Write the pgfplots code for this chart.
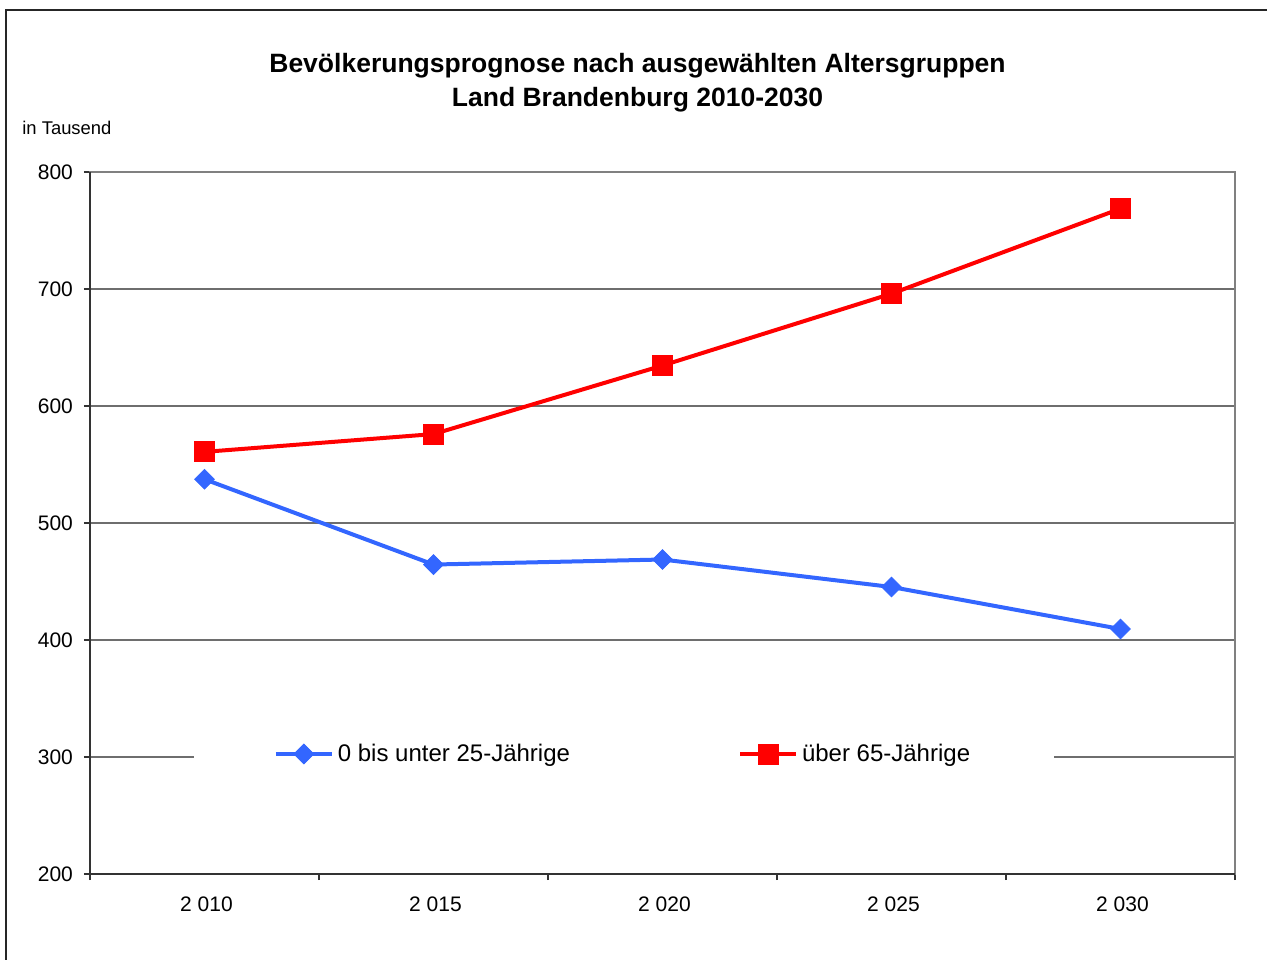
\documentclass[border=0pt]{standalone}
\usepackage{pgfplots}
\pgfplotsset{compat=1.18}
\usepackage{fontspec}
\setmainfont{Liberation Sans}
\definecolor{myblue}{RGB}{51,102,255}
\definecolor{gridgray}{RGB}{110,110,110}
\definecolor{boxgray}{RGB}{128,128,128}
\begin{document}
\begin{tikzpicture}
\useasboundingbox (0,0) rectangle (633.5pt,479.5pt);
\draw[black!85, line width=0.8pt] (3pt,-5pt) -- (3pt,474.5pt) -- (640pt,474.5pt);
\node[font=\fontsize{13.25}{17}\selectfont\bfseries, align=center] at (318.75pt,438pt)
  {Bevölkerungsprognose nach ausgewählten Altersgruppen\\Land Brandenburg 2010-2030};
\node[font=\fontsize{9.2}{11}\selectfont, anchor=base west, inner sep=0pt] at (11pt,412pt) {in Tausend};
\begin{axis}[
  at={(45pt,42.5pt)}, anchor=south west,
  scale only axis, width=572.5pt, height=351pt,
  xmin=-0.5, xmax=4.5, ymin=200, ymax=800,
  ytick={200,300,400,500,600,700,800},
  xtick={-0.5,0.5,1.5,2.5,3.5,4.5}, xticklabels={},
  extra x ticks={0,1,2,3,4},
  extra x tick labels={2 010,2 015,2 020,2 025,2 030},
  extra x tick style={major tick length=0pt, grid=none},
  tick align=outside, tick pos=left, major tick length=3pt,
  tick style={black!80, line width=0.6pt},
  ymajorgrids, grid style={gridgray, line width=0.6pt},
  axis line style={boxgray, line width=1pt},
  tick label style={font=\fontsize{10.5}{12}\selectfont},
  /pgf/number format/assume math mode=true,
  xticklabel style={yshift=-8pt, xshift=1pt},
  yticklabel style={xshift=-2pt},
  legend columns=2,
  legend style={draw=none, fill=white, at={(0.4664,0.171)}, anchor=center,
    font=\fontsize{12}{14}\selectfont, inner xsep=40pt, inner ysep=3pt,
    /tikz/every even column/.append style={column sep=82pt}},
  legend image code/.code={\draw[mark repeat=2,mark phase=2] plot coordinates {(0pt,0pt)(14pt,0pt)(28pt,0pt)};},
  clip=false,
]
\addplot[myblue, line width=2pt, mark=square*, mark size=3.5pt, mark options={rotate=45, line width=0.4pt}]
  coordinates {(0,537.4)(1,464.5)(2,468.8)(3,445.3)(4,409.4)};
\addlegendentry{0 bis unter 25-Jährige}
\addplot[red, line width=2pt, mark=square*, mark size=5pt, mark options={line width=0.4pt}]
  coordinates {(0,560.8)(1,576)(2,634.6)(3,696)(4,768.7)};
\addlegendentry{über 65-Jährige}
\draw[black!80, line width=1pt] (rel axis cs:0,1) -- (rel axis cs:0,0) -- (rel axis cs:1,0);
\end{axis}
\end{tikzpicture}
\end{document}
